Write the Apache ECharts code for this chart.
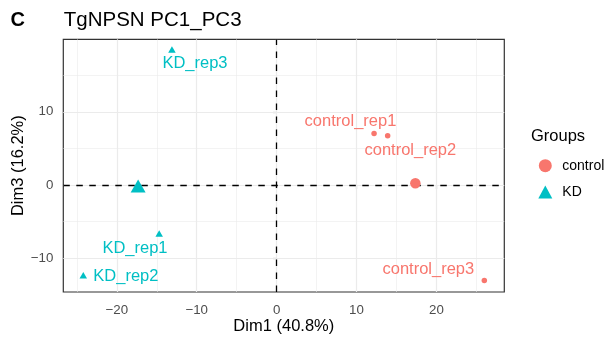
<!DOCTYPE html>
<html>
<head>
<meta charset="utf-8">
<script src="https://cdn.jsdelivr.net/npm/echarts@6/dist/echarts.min.js"></script>
<style>
  html, body { margin: 0; padding: 0; background: #ffffff; }
  #chart { width: 613px; height: 337px; }
</style>
</head>
<body>
<div id="chart"></div>
<script>
// Sample coordinates on the first and third principal dimensions
const controlNames = ['control_rep1', 'control_rep2', 'control_rep3'];
const controlDim1 = [12.2, 13.9, 26.0];
const controlDim3 = [7.05, 6.73, -13.03];

const kdNames = ['KD_rep1', 'KD_rep2', 'KD_rep3'];
const kdDim1 = [-14.7, -24.2, -13.1];
const kdDim3 = [-6.6, -12.3, 18.5];

const groupNames = ['control', 'KD'];
const xTicks = [-20, -10, 0, 10, 20];
const yTicks = [-10, 0, 10];

// Repelled label placement (pixel offsets from each point)
const controlLabelOffset = [[-23.6, -11.7], [22.7, 15.0], [-56.0, -11.3]];
const kdLabelOffset = [[-24.2, 15.3], [42.6, 1.3], [23.0, 13.8]];

const FONT = '"Liberation Sans", Arial, Helvetica, sans-serif';
const COL_CONTROL = '#F8766D';
const COL_KD = '#00BFC4';

const mean = a => a.reduce((s, v) => s + v, 0) / a.length;

function pointData(names, xs, ys, offsets) {
  return names.map((n, i) => ({
    name: n,
    value: [xs[i], ys[i]],
    label: { offset: offsets[i] }
  }));
}

const fmt = v => (v < 0 ? '\u2212' + Math.abs(v) : String(v));

// Background grid lines (major and minor)
const majorX = [-20, -10, 0, 10, 20];
const minorX = [-25, -15, -5, 5, 15, 25];
const majorY = [-10, 0, 10];
const minorY = [-5, 5, 15];
const gridLines = [].concat(
  minorX.map(v => ({ xAxis: v, lineStyle: { width: 0.6 } })),
  minorY.map(v => ({ yAxis: v, lineStyle: { width: 0.6 } })),
  majorX.map(v => ({ xAxis: v, lineStyle: { width: 1.2 } })),
  majorY.map(v => ({ yAxis: v, lineStyle: { width: 1.2 } }))
);

const chart = echarts.init(document.getElementById('chart'), null, { renderer: 'canvas' });

chart.setOption({
  animation: false,
  backgroundColor: '#ffffff',
  textStyle: { fontFamily: FONT },
  grid: {
    left: 63.3, right: 108.7, top: 39.3, bottom: 45,
    containLabel: false, outerBoundsMode: 'none',
    show: true, borderColor: '#333333', borderWidth: 1.2, backgroundColor: '#ffffff'
  },
  xAxis: {
    type: 'value', min: -26.7, max: 28.5,
    name: 'Dim1 (40.8%)', nameLocation: 'middle', nameGap: 26, nameMoveOverlap: false,
    nameTextStyle: { fontSize: 16.5, color: '#000000', fontFamily: FONT },
    axisLine: { show: false },
    splitLine: { show: false },
    axisTick: { show: true, customValues: xTicks, length: 4, lineStyle: { color: '#333333', width: 1.1 } },
    axisLabel: { customValues: xTicks, formatter: fmt, color: '#4D4D4D', fontSize: 13.3, margin: 11.5, fontFamily: FONT }
  },
  yAxis: {
    type: 'value', min: -14.6, max: 19.9,
    name: 'Dim3 (16.2%)', nameLocation: 'middle', nameGap: 36, nameRotate: 90, nameMoveOverlap: false,
    nameTextStyle: { fontSize: 16.5, color: '#000000', fontFamily: FONT },
    axisLine: { show: false },
    splitLine: { show: false },
    axisTick: { show: true, customValues: yTicks, length: 4, lineStyle: { color: '#333333', width: 1.1 } },
    axisLabel: { customValues: yTicks, formatter: fmt, color: '#4D4D4D', fontSize: 13.3, margin: 10, fontFamily: FONT }
  },
  legend: {
    orient: 'vertical', left: 533.3, top: 153.7,
    itemWidth: 14, itemHeight: 13, itemGap: 12.3,
    selectedMode: false,
    textStyle: { fontSize: 14, color: '#000000', fontFamily: FONT, padding: [0, 0, 0, 5], lineHeight: 13 },
    data: [
      { name: groupNames[0], icon: 'circle' },
      { name: groupNames[1], icon: 'triangle' }
    ]
  },
  graphic: [
    { type: 'text', left: 10.5, top: 10, style: { text: 'C', font: 'bold 20px ' + FONT, fill: '#000000' } },
    { type: 'text', left: 63.8, top: 10, style: { text: 'TgNPSN PC1_PC3', font: '20.5px ' + FONT, fill: '#000000' } },
    { type: 'text', left: 531, top: 127.5, style: { text: 'Groups', font: '16.5px ' + FONT, fill: '#000000' } }
  ],
  series: [
    {
      type: 'scatter', name: '_grid', data: [], silent: true, z: 1,
      markLine: {
        silent: true, symbol: 'none', z: 1, animation: false,
        label: { show: false },
        lineStyle: { color: '#EBEBEB', type: 'solid' },
        data: gridLines
      }
    },
    {
      type: 'scatter', name: '_zero', data: [], silent: true, z: 2,
      markLine: {
        silent: true, symbol: 'none', z: 2, animation: false,
        label: { show: false },
        lineStyle: { color: '#000000', width: 1.3, type: [6.5, 6.5] },
        data: [{ xAxis: 0 }, { yAxis: 0 }]
      }
    },
    {
      type: 'scatter', name: groupNames[0], z: 3,
      symbol: 'circle', symbolSize: 5.5,
      itemStyle: { color: COL_CONTROL, opacity: 1 },
      label: { show: true, position: 'inside', formatter: p => p.name, color: COL_CONTROL, fontSize: 16.5, fontFamily: FONT },
      data: pointData(controlNames, controlDim1, controlDim3, controlLabelOffset)
    },
    {
      type: 'scatter', name: groupNames[0], z: 3,
      symbol: 'circle', symbolSize: 10.5,
      itemStyle: { color: COL_CONTROL, opacity: 1 },
      data: [[mean(controlDim1), mean(controlDim3)]]
    },
    {
      type: 'scatter', name: groupNames[1], z: 3,
      symbol: 'triangle', symbolSize: [7.5, 6.5],
      itemStyle: { color: COL_KD, opacity: 1 },
      label: { show: true, position: 'inside', formatter: p => p.name, color: COL_KD, fontSize: 16.5, fontFamily: FONT },
      data: pointData(kdNames, kdDim1, kdDim3, kdLabelOffset)
    },
    {
      type: 'scatter', name: groupNames[1], z: 3,
      symbol: 'triangle', symbolSize: [15, 13],
      itemStyle: { color: COL_KD, opacity: 1 },
      data: [[mean(kdDim1), mean(kdDim3)]]
    }
  ]
});
</script>
</body>
</html>
